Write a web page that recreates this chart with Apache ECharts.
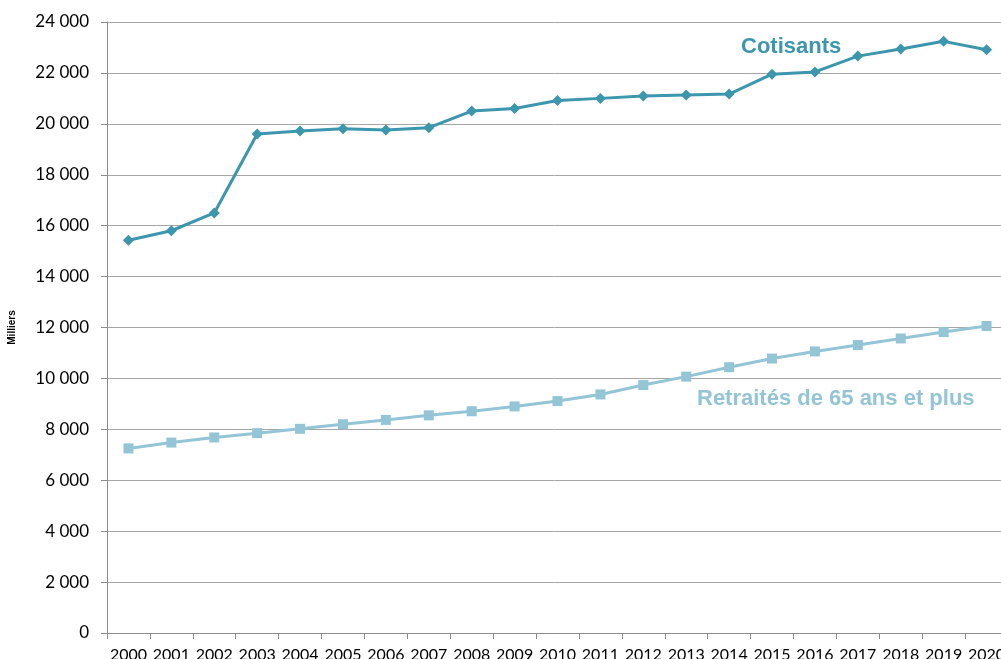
<!DOCTYPE html>
<html><head><meta charset="utf-8">
<script src="https://cdn.jsdelivr.net/npm/echarts@6/dist/echarts.min.js"></script>
<style>html,body{margin:0;padding:0;background:#fff}#c{width:1001px;height:659px}</style>
</head><body><div id="c"></div>
<script>
const years = ['2000','2001','2002','2003','2004','2005','2006','2007','2008','2009','2010','2011','2012','2013','2014','2015','2016','2017','2018','2019','2020'];
const cotisants = [15430,15800,16500,19600,19720,19810,19760,19850,20500,20600,20920,21000,21090,21130,21170,21950,22040,22660,22940,23240,22910];
const retraites = [7250,7480,7680,7850,8020,8200,8370,8550,8710,8900,9110,9370,9740,10070,10440,10780,11060,11310,11570,11820,12060];
const yTicks = {min:0, max:24000, interval:2000};
const nameCot = 'Cotisants';
const nameRet = 'Retraités de 65 ans et plus';
const colCot = '#3C96AD';
const colRet = '#93C5D6';

const chart = echarts.init(document.getElementById('c'));
chart.setOption({
  animation:false,
  grid:{left:107, top:22, width:901, height:611, containLabel:false, outerBoundsMode:'none'},
  xAxis:{type:'category', data:years, boundaryGap:true,
    axisLine:{lineStyle:{color:'#8c8c8c', width:1}},
    axisTick:{show:true, length:6, lineStyle:{color:'#8c8c8c'}},
    axisLabel:{color:'#000', fontFamily:'Lato', fontSize:16, margin:14, interval:0}},
  yAxis:{type:'value', min:yTicks.min, max:yTicks.max, interval:yTicks.interval,
    name:'Milliers', nameLocation:'middle', nameGap:90, nameRotate:90,
    nameTextStyle:{fontFamily:'Liberation Sans', fontWeight:'bold', fontSize:10, color:'#000'},
    axisLine:{show:true, lineStyle:{color:'#8c8c8c', width:1}},
    axisTick:{show:true, length:6, lineStyle:{color:'#8c8c8c'}},
    splitLine:{lineStyle:{color:'#a6a6a6', width:1}},
    axisLabel:{color:'#000', fontFamily:'Lato', fontSize:17, margin:18,
      formatter:v=>String(v).replace(/\B(?=(\d{3})+(?!\d))/g,' ')}},
  graphic:[
    {type:'text', left:741, top:36, style:{text:nameCot, fill:colCot, font:'bold 22px "Liberation Sans"'}},
    {type:'text', left:697, top:388, style:{text:nameRet, fill:colRet, font:'bold 22px "Liberation Sans"'}}
  ],
  series:[
    {name:nameCot, type:'line', data:cotisants, symbol:'diamond', symbolSize:11,
      lineStyle:{color:colCot, width:3}, itemStyle:{color:colCot}},
    {name:nameRet, type:'line', data:retraites, symbol:'rect', symbolSize:10,
      lineStyle:{color:colRet, width:3}, itemStyle:{color:colRet}}
  ]
});
</script></body></html>
